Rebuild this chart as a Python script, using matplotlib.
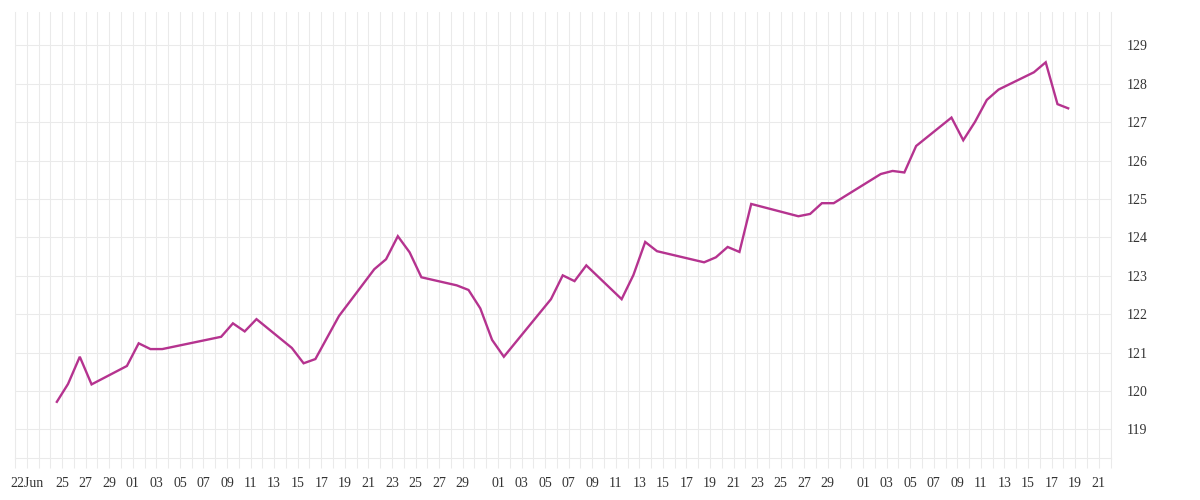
import matplotlib
matplotlib.use("Agg")
import matplotlib.pyplot as plt
import matplotlib.dates as mdates
from datetime import datetime, timedelta

# ---- data ----
dates = [
    "2014-06-24", "2014-06-25", "2014-06-26", "2014-06-27", "2014-06-30",
    "2014-07-01", "2014-07-02", "2014-07-03", "2014-07-08", "2014-07-09",
    "2014-07-10", "2014-07-11", "2014-07-14", "2014-07-15", "2014-07-16",
    "2014-07-18", "2014-07-21", "2014-07-22", "2014-07-23", "2014-07-24",
    "2014-07-25", "2014-07-28", "2014-07-29", "2014-07-30", "2014-07-31",
    "2014-08-01", "2014-08-05", "2014-08-06", "2014-08-07", "2014-08-08",
    "2014-08-11", "2014-08-12", "2014-08-13", "2014-08-14", "2014-08-18",
    "2014-08-19", "2014-08-20", "2014-08-21", "2014-08-22", "2014-08-26",
    "2014-08-27", "2014-08-28", "2014-08-29", "2014-09-02", "2014-09-03",
    "2014-09-04", "2014-09-05", "2014-09-08", "2014-09-09", "2014-09-10",
    "2014-09-11", "2014-09-12", "2014-09-15", "2014-09-16", "2014-09-17",
    "2014-09-18",
]
values = [
    119.69, 120.18, 120.89, 120.17, 120.65,
    121.24, 121.09, 121.09, 121.41, 121.76,
    121.55, 121.87, 121.12, 120.72, 120.83,
    121.95, 123.17, 123.43, 124.03, 123.61,
    122.96, 122.75, 122.63, 122.15, 121.33,
    120.89, 122.39, 123.01, 122.86, 123.27,
    122.39, 123.02, 123.88, 123.64, 123.35,
    123.48, 123.75, 123.62, 124.87, 124.55,
    124.61, 124.89, 124.89, 125.65, 125.73,
    125.69, 126.38, 127.12, 126.53, 127.01,
    127.58, 127.85, 128.30, 128.56, 127.47,
    127.35,
]
y_ticks = [119, 120, 121, 122, 123, 124, 125, 126, 127, 128, 129]
x_start = "2014-06-21"
x_end = "2014-09-22"
first_label = ("2014-06-22", "22Jun")

LINE_COLOR = "#B5338F"
GRID_COLOR = "#EAEAEA"
TEXT_COLOR = "#333333"

# ---- figure ----
fig = plt.figure(figsize=(12, 5), dpi=100)
ax = fig.add_axes([15 / 1200, 1 - 458.3 / 500, (1110.5 - 15) / 1200, (458.3 - 12) / 500])

xd = [datetime.strptime(d, "%Y-%m-%d") + timedelta(hours=12) for d in dates]
ax.plot(xd, values, color=LINE_COLOR, linewidth=1.7, zorder=3,
        solid_joinstyle="miter", solid_capstyle="butt")

d0 = datetime.strptime(x_start, "%Y-%m-%d")
d1 = datetime.strptime(x_end, "%Y-%m-%d")
ax.set_xlim(d0, d1)
ax.set_ylim(118.245, 129.87)

# daily minor ticks / grid
days = []
d = d0
while d <= d1:
    days.append(d)
    d += timedelta(days=1)
ax.set_xticks(days, minor=True)

# labelled major ticks
maj = [datetime.strptime(first_label[0], "%Y-%m-%d")]
lab = [first_label[1]]
for d in days:
    if d > maj[0] + timedelta(days=1) and d.day % 2 == 1 and d.day <= 29:
        maj.append(d)
        lab.append(d.strftime("%d"))
ax.set_xticks(maj)
ax.set_xticklabels(lab)

ax.grid(which="both", axis="x", color=GRID_COLOR, linewidth=0.75, zorder=0)
ax.set_yticks(y_ticks)
ax.grid(which="major", axis="y", color=GRID_COLOR, linewidth=0.75, zorder=0)

ax.tick_params(axis="x", which="both", length=7.2, width=0.75, color=GRID_COLOR,
               direction="out")
ax.tick_params(axis="x", which="major", pad=6.5, labelsize=10, labelcolor=TEXT_COLOR)
ax.yaxis.tick_right()
ax.tick_params(axis="y", which="both", length=0, pad=12, labelsize=10,
               labelcolor=TEXT_COLOR)

for lbl in ax.get_xticklabels() + ax.get_yticklabels():
    lbl.set_fontfamily(["Liberation Serif", "DejaVu Serif"])

for s in ["left", "right", "bottom"]:
    ax.spines[s].set_color(GRID_COLOR)
    ax.spines[s].set_linewidth(0.75)
ax.spines["top"].set_visible(False)

fig.savefig("out.png", dpi=100, facecolor="white")
